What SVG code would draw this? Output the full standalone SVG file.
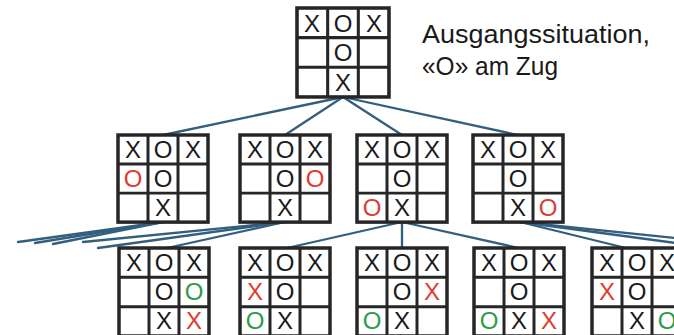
<svg xmlns="http://www.w3.org/2000/svg" width="674" height="335" viewBox="0 0 674 335">
<defs>
<style>
.g{fill:#fff;stroke:#262626;stroke-width:3.5}
.l{stroke:#262626;stroke-width:3}
.c{font-family:"Liberation Sans",Arial,sans-serif;font-size:24px;text-anchor:middle;fill:#1a1a1a}
.r{fill:#e03a2e}
.n{fill:#2e9a4c}
.e{stroke:#335f7f;stroke-width:2.3;fill:none;stroke-linecap:round}
.t{font-family:"Liberation Sans",Arial,sans-serif;font-size:25px;fill:#1a1a1a}
</style>
<g id="grid">
<rect class="g" x="0" y="0" width="90" height="88"/>
<line class="l" x1="30" y1="0" x2="30" y2="88"/>
<line class="l" x1="60" y1="0" x2="60" y2="88"/>
<line class="l" x1="0" y1="29.3" x2="90" y2="29.3"/>
<line class="l" x1="0" y1="58.7" x2="90" y2="58.7"/>
</g>
</defs>
<rect width="674" height="335" fill="#fff"/>
<g id="connectors">
<line class="e" x1="343" y1="97" x2="163" y2="135"/>
<line class="e" x1="343" y1="97" x2="285" y2="135"/>
<line class="e" x1="343" y1="97" x2="402" y2="135"/>
<line class="e" x1="343" y1="97" x2="518" y2="135"/>
<line class="e" x1="163" y1="222" x2="18" y2="242"/>
<line class="e" x1="163" y1="222" x2="35" y2="243"/>
<line class="e" x1="163" y1="222" x2="53" y2="244"/>
<line class="e" x1="285" y1="222" x2="83" y2="242"/>
<line class="e" x1="285" y1="222" x2="98" y2="248"/>
<line class="e" x1="285" y1="222" x2="167" y2="248"/>
<line class="e" x1="402" y1="222" x2="287" y2="248"/>
<line class="e" x1="402" y1="222" x2="402" y2="248"/>
<line class="e" x1="402" y1="222" x2="519" y2="248"/>
<line class="e" x1="520" y1="222" x2="626" y2="248"/>
<line class="e" x1="520" y1="222" x2="676" y2="238"/>
<line class="e" x1="520" y1="222" x2="676" y2="243"/>
</g>
<g id="start">
<use href="#grid" transform="translate(297,8) scale(1.022,1.011)"/>
<text class="c" x="312" y="32">X</text><text class="c" x="343" y="32">O</text><text class="c" x="374" y="32">X</text>
<text class="c" x="343" y="61">O</text>
<text class="c" x="343" y="91">X</text>
</g>
<g id="label">
<text class="t" x="422" y="43" textLength="228" lengthAdjust="spacingAndGlyphs">Ausgangssituation,</text>
<text class="t" x="422" y="75" textLength="136" lengthAdjust="spacingAndGlyphs">«O» am Zug</text>
</g>
<g id="b1">
<use href="#grid" transform="translate(118,135) scale(1,0.99)"/>
<text class="c" x="133" y="158">X</text><text class="c" x="163" y="158">O</text><text class="c" x="193" y="158">X</text>
<text class="c r" x="133" y="187">O</text><text class="c" x="163" y="187">O</text>
<text class="c" x="163" y="216">X</text>
</g>
<g id="b2">
<use href="#grid" transform="translate(240,135) scale(1,0.99)"/>
<text class="c" x="255" y="158">X</text><text class="c" x="285" y="158">O</text><text class="c" x="315" y="158">X</text>
<text class="c" x="285" y="187">O</text><text class="c r" x="315" y="187">O</text>
<text class="c" x="285" y="216">X</text>
</g>
<g id="b3">
<use href="#grid" transform="translate(357,135) scale(1,0.99)"/>
<text class="c" x="372" y="158">X</text><text class="c" x="402" y="158">O</text><text class="c" x="432" y="158">X</text>
<text class="c" x="402" y="187">O</text>
<text class="c r" x="372" y="216">O</text><text class="c" x="402" y="216">X</text>
</g>
<g id="b4">
<use href="#grid" transform="translate(473,135) scale(1,0.99)"/>
<text class="c" x="488" y="158">X</text><text class="c" x="518" y="158">O</text><text class="c" x="548" y="158">X</text>
<text class="c" x="518" y="187">O</text>
<text class="c" x="518" y="216">X</text><text class="c r" x="548" y="216">O</text>
</g>
<g id="c1">
<use href="#grid" transform="translate(119,248)"/>
<text class="c" x="134" y="271">X</text><text class="c" x="164" y="271">O</text><text class="c" x="194" y="271">X</text>
<text class="c" x="164" y="300">O</text><text class="c n" x="194" y="300">O</text>
<text class="c" x="164" y="329">X</text><text class="c r" x="194" y="329">X</text>
</g>
<g id="c2">
<use href="#grid" transform="translate(240,248)"/>
<text class="c" x="255" y="271">X</text><text class="c" x="285" y="271">O</text><text class="c" x="315" y="271">X</text>
<text class="c r" x="255" y="300">X</text><text class="c" x="285" y="300">O</text>
<text class="c n" x="255" y="329">O</text><text class="c" x="285" y="329">X</text>
</g>
<g id="c3">
<use href="#grid" transform="translate(357,248)"/>
<text class="c" x="372" y="271">X</text><text class="c" x="402" y="271">O</text><text class="c" x="432" y="271">X</text>
<text class="c" x="402" y="300">O</text><text class="c r" x="432" y="300">X</text>
<text class="c n" x="372" y="329">O</text><text class="c" x="402" y="329">X</text>
</g>
<g id="c4">
<use href="#grid" transform="translate(474,248)"/>
<text class="c" x="489" y="271">X</text><text class="c" x="519" y="271">O</text><text class="c" x="549" y="271">X</text>
<text class="c" x="519" y="300">O</text>
<text class="c n" x="489" y="329">O</text><text class="c" x="519" y="329">X</text><text class="c r" x="549" y="329">X</text>
</g>
<g id="c5">
<use href="#grid" transform="translate(592,248)"/>
<text class="c" x="607" y="271">X</text><text class="c" x="637" y="271">O</text><text class="c" x="667" y="271">X</text>
<text class="c r" x="607" y="300">X</text><text class="c" x="637" y="300">O</text>
<text class="c" x="637" y="329">X</text><text class="c n" x="667" y="329">O</text>
</g>
</svg>
